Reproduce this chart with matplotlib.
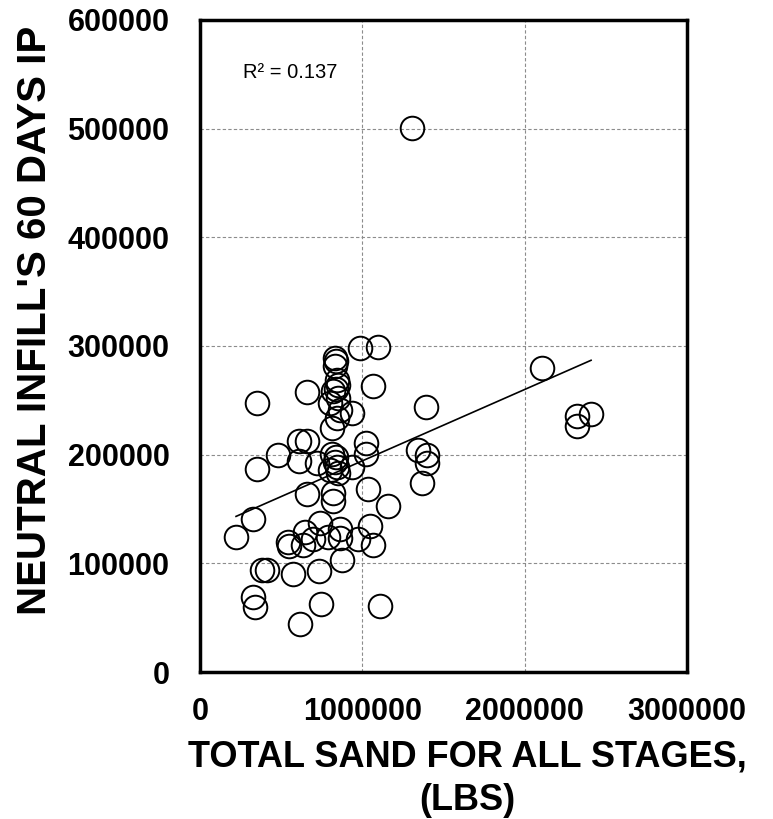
import numpy as np
import matplotlib
matplotlib.use("Agg")
import matplotlib.pyplot as plt

# Data (total sand, lbs; 60-day IP)
sand = [1306000, 2107000, 2323000, 2409000, 2323000, 986000, 1097000, 838000, 832000,
        844000, 850000, 838000, 659000, 1066000, 351000, 1392000,
        610000, 659000, 481000, 351000, 610000, 721000, 813000, 838000, 832000, 844000,
        937000, 1023000, 1023000, 1343000, 1399000, 1399000, 1368000, 1035000, 659000,
        819000, 819000, 1158000, 327000, 222000, 542000, 548000, 647000, 635000, 696000,
        739000, 789000, 863000, 863000, 973000, 1047000, 1066000, 875000, 382000, 413000,
        573000, 733000, 327000, 339000, 746000, 1109000, 616000,
        801000, 850000, 863000, 937000, 813000, 844000, 819000, 801000, 850000, 832000]
ip = [501000, 280000, 236000, 237000, 226000, 298000, 299000, 286000, 282000,
      269000, 264000, 260000, 258000, 263000, 248000, 244000,
      213000, 213000, 200000, 187000, 194000, 192000, 201000, 198000, 193000, 189000,
      189000, 211000, 201000, 204000, 200000, 192000, 174000, 168000, 164000,
      165000, 157000, 153000, 141000, 124000, 120000, 116000, 129000, 117000, 122000,
      137000, 124000, 132000, 123000, 122000, 134000, 117000, 103000, 94000, 94000,
      90000, 93000, 69000, 60000, 63000, 61000, 44000,
      248000, 252000, 241000, 238000, 225000, 234000, 259000, 186000, 183000, 289000]

x_ticks = [0, 1000000, 2000000, 3000000]
y_ticks = [0, 100000, 200000, 300000, 400000, 500000, 600000]
x_title = "TOTAL SAND FOR ALL STAGES,\n(LBS)"
y_title = "NEUTRAL INFILL'S 60 DAYS IP"

plt.rcParams['font.family'] = ['Liberation Sans', 'DejaVu Sans']

fig = plt.figure(figsize=(7.73, 8.19), dpi=100)
ax = fig.add_axes([200/773, 1-672/819, 487/773, 652/819])

x = np.array(sand, dtype=float)
y = np.array(ip, dtype=float)
ax.plot(x, y, linestyle='none', marker='o', ms=17, mfc='none', mec='black', mew=1.4, zorder=3)

# linear trend line and R^2
coef = np.polyfit(x, y, 1)
xl = np.array([x.min(), x.max()])
ax.plot(xl, np.polyval(coef, xl), color='black', lw=1.2, zorder=4)
ax.text(265000, 552000, "R² = 0.137", fontsize=14.5, va='center', ha='left')

ax.set_xlim(0, 3000000)
ax.set_ylim(0, 600000)
ax.set_xticks(x_ticks)
ax.set_yticks(y_ticks)
ax.set_xticklabels([str(v) for v in x_ticks], fontsize=22, fontweight='bold')
ax.set_yticklabels([str(v) for v in y_ticks], fontsize=22, fontweight='bold')
ax.tick_params(axis='x', length=0, pad=18)
ax.tick_params(axis='y', length=0, pad=22)

ax.grid(True, color='#8c8c8c', linestyle=(0, (3, 2)), linewidth=0.8, zorder=0)
ax.set_axisbelow(True)
for s in ax.spines.values():
    s.set_linewidth(2.5)
    s.set_color('black')

fig.text(467/773, 1-779/819, x_title, ha='center', va='center', fontsize=26,
         fontweight='bold', linespacing=1.3)
fig.text(35/773, 1-320/819, y_title, ha='center', va='center', rotation=90,
         fontsize=29, fontweight='bold')

fig.savefig("out.png", dpi=100)
